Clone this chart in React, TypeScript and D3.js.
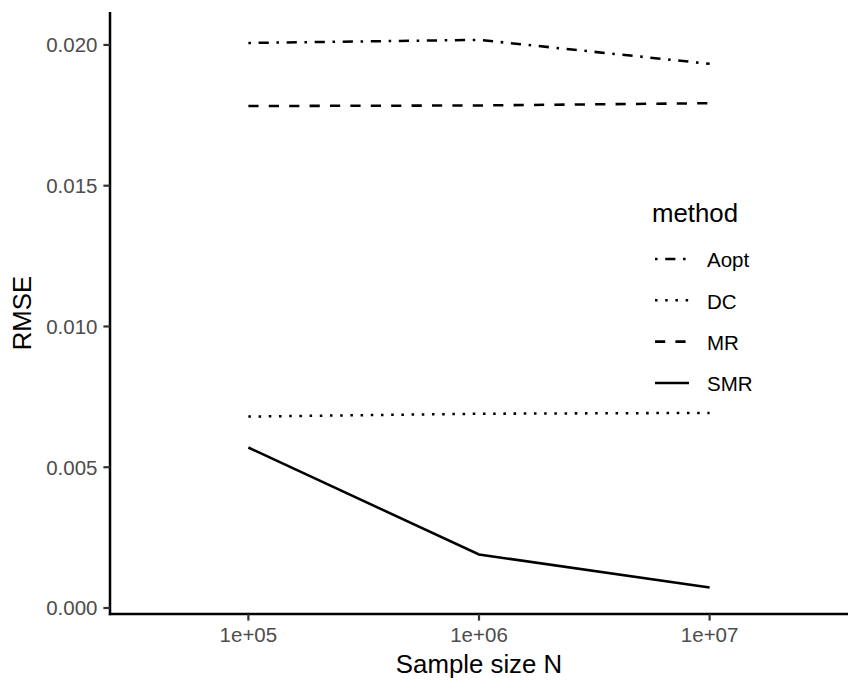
import React from "react";
import * as d3 from "d3";

const sampleSizes = ["1e+05", "1e+06", "1e+07"];
const methods = ["Aopt", "DC", "MR", "SMR"];
const aoptValues = [0.02007, 0.02018, 0.01933];
const dcValues = [0.00680, 0.00690, 0.00693];
const mrValues = [0.01783, 0.01785, 0.01793];
const smrValues = [0.00570, 0.00190, 0.00073];
const yTicks = [0, 0.005, 0.01, 0.015, 0.02];

const seriesValues: Record<string, number[]> = {
  Aopt: aoptValues,
  DC: dcValues,
  MR: mrValues,
  SMR: smrValues,
};

const LW = 2.55;
const dashes: Record<string, string> = {
  Aopt: `${1 * LW},${3 * LW},${4 * LW},${3 * LW}`,
  DC: `${1 * LW},${3 * LW}`,
  MR: `${4 * LW},${4 * LW}`,
  SMR: "none",
};

export default function App() {
  const W = 865, H = 692;
  const left = 110, right = 848, top = 12, bottom = 614;
  const x = d3.scalePoint<string>().domain(sampleSizes).range([left, right]).padding(0.6);
  const y = d3.scaleLinear().domain([-0.000213, 0.02117]).range([bottom, top]);
  const line = d3
    .line<number>()
    .x((_, i) => x(sampleSizes[i]) as number)
    .y((d) => y(d));
  const font = "'Liberation Sans', Arial, Helvetica, sans-serif";
  const legX = 655, legY0 = 259, legStep = 41.3;
  const tickFs = 20.5, titleFs = 25.8;
  return (
    <svg width={W} height={H} style={{ position: "absolute", left: 0, top: 0, fontFamily: font }}>
      <rect width={W} height={H} fill="#fff" />
      {methods.map((m) => (
        <path
          key={m}
          d={line(seriesValues[m]) as string}
          fill="none"
          stroke="#000"
          strokeWidth={LW}
          strokeDasharray={dashes[m]}
          strokeLinecap="butt"
        />
      ))}
      {/* axes */}
      <line x1={left} x2={left} y1={top} y2={bottom + 1.2} stroke="#000" strokeWidth={2.5} />
      <line x1={left - 1.2} x2={right} y1={bottom} y2={bottom} stroke="#000" strokeWidth={2.5} />
      {yTicks.map((t) => (
        <g key={t}>
          <line x1={left - 6.6} x2={left} y1={y(t)} y2={y(t)} stroke="#333" strokeWidth={2.2} />
          <text x={left - 12.5} y={y(t)} dy="0.36em" textAnchor="end" fontSize={tickFs} fill="#4d4d4d">
            {d3.format(".3f")(t)}
          </text>
        </g>
      ))}
      {sampleSizes.map((s) => (
        <g key={s}>
          <line x1={x(s)} x2={x(s)} y1={bottom} y2={bottom + 6.6} stroke="#333" strokeWidth={2.2} />
          <text x={x(s)} y={642} textAnchor="middle" fontSize={tickFs} fill="#4d4d4d">
            {s}
          </text>
        </g>
      ))}
      <text x={(left + right) / 2} y={673} textAnchor="middle" fontSize={titleFs} fill="#000">
        Sample size N
      </text>
      <text
        transform={`translate(31, ${(top + bottom) / 2}) rotate(-90)`}
        textAnchor="middle"
        fontSize={titleFs}
        fill="#000"
      >
        RMSE
      </text>
      {/* legend */}
      <text x={652} y={222} fontSize={titleFs} fill="#000">method</text>
      {methods.map((m, i) => {
        const yy = legY0 + i * legStep;
        return (
          <g key={m}>
            <line
              x1={legX}
              x2={legX + 34}
              y1={yy}
              y2={yy}
              stroke="#000"
              strokeWidth={LW}
              strokeDasharray={dashes[m]}
            />
            <text x={707} y={yy + 1} dy="0.36em" fontSize={tickFs} fill="#000">
              {m}
            </text>
          </g>
        );
      })}
    </svg>
  );
}
